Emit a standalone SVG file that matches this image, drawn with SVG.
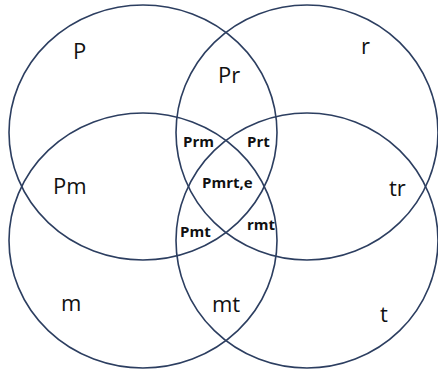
<svg xmlns="http://www.w3.org/2000/svg" width="438" height="369" viewBox="0 0 438 369">
<style>
.c{fill:none;stroke:#2c3e60;stroke-width:1.6}
.l{font-family:"Open Sans","Noto Sans",sans-serif;font-size:22px;fill:#111}
.b{font-family:"Open Sans","Noto Sans",sans-serif;font-size:15px;font-weight:bold;fill:#111}
</style>
<rect width="438" height="369" fill="#fff"/>
<g id="connectors"></g>
<g id="set-P"><ellipse class="c" cx="143" cy="132.5" rx="134" ry="127.5"/></g>
<g id="set-r"><ellipse class="c" cx="307" cy="132.5" rx="131" ry="127.5"/></g>
<g id="set-m"><ellipse class="c" cx="143" cy="240.5" rx="134" ry="127.5"/></g>
<g id="set-t"><ellipse class="c" cx="307" cy="240.5" rx="131" ry="127.5"/></g>
<g id="labels">
<text class="l" x="73" y="59">P</text>
<text class="l" x="361" y="54">r</text>
<text class="l" x="218" y="83">Pr</text>
<text class="l" x="53" y="194">Pm</text>
<text class="l" x="389" y="196">tr</text>
<text class="l" x="61" y="311">m</text>
<text class="l" x="212" y="312">mt</text>
<text class="l" x="380" y="322">t</text>
<text class="b" x="183" y="147">Prm</text>
<text class="b" x="247" y="147">Prt</text>
<text class="b" x="202" y="188">Pmrt,e</text>
<text class="b" x="180" y="237">Pmt</text>
<text class="b" x="247" y="230">rmt</text>
</g>
</svg>
